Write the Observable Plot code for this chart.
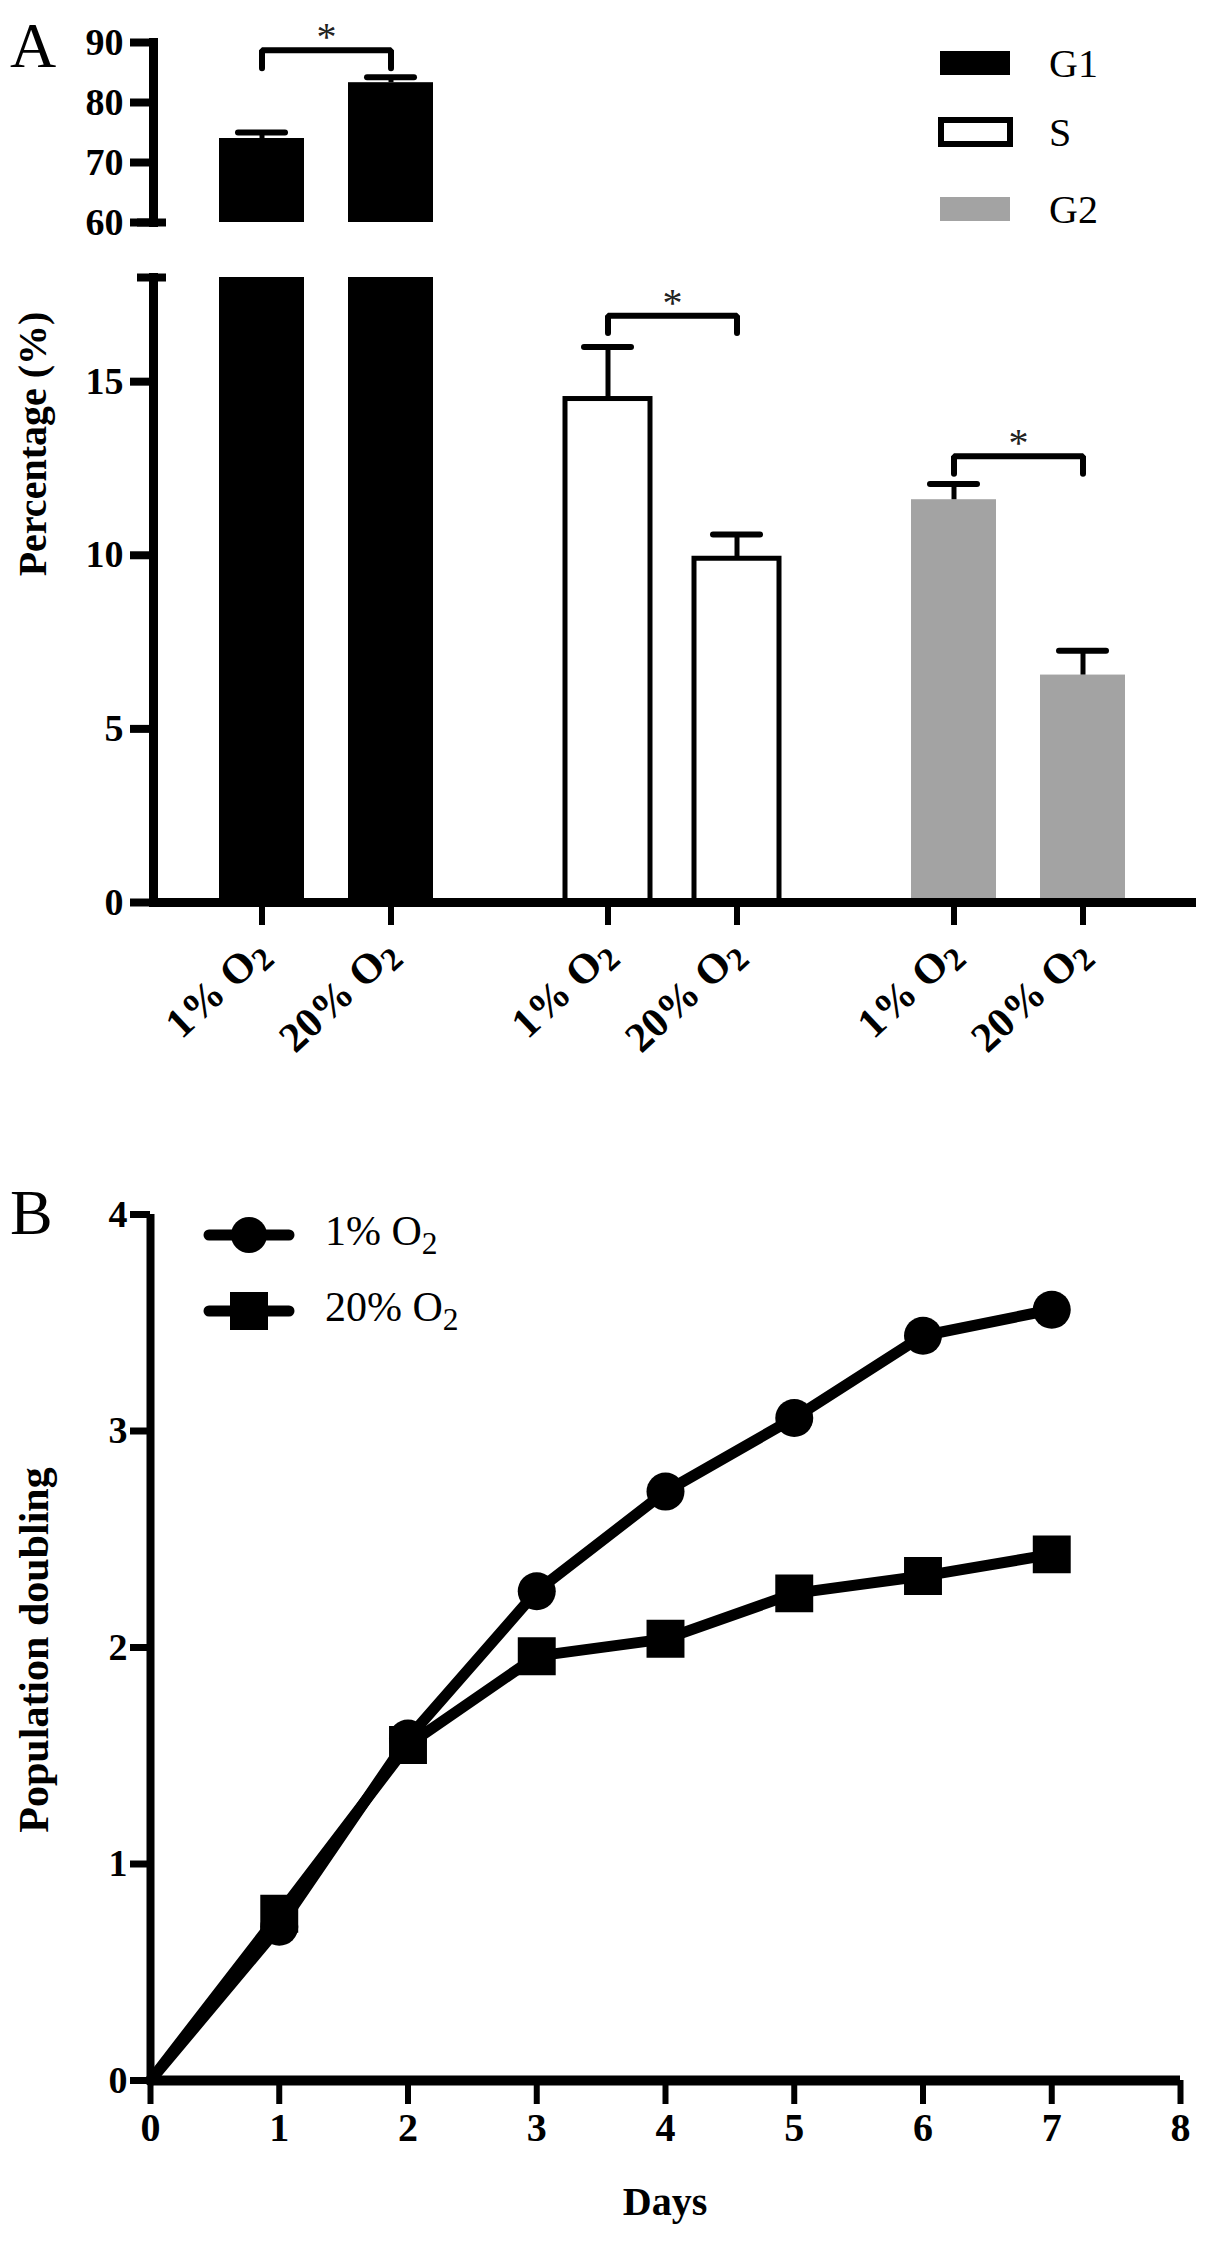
<!DOCTYPE html>
<html>
<head>
<meta charset="utf-8">
<script src="https://cdn.jsdelivr.net/npm/d3@7"></script>
<script src="https://cdn.jsdelivr.net/npm/@observablehq/plot@0.6"></script>
<style>
  body { margin: 0; background: white; }
  #figure {
    position: relative; width: 1205px; height: 2244px; overflow: hidden;
    font-family: 'Liberation Serif', 'Times New Roman', serif; color: black; background: white;
  }
  #figure > div, #figure > svg { position: absolute; }
  .letter { font-size: 64px; line-height: 64px; }
  .ytitle {
    font-weight: bold; font-size: 40px; line-height: 40px; white-space: nowrap;
    transform: translate(-50%, -50%) rotate(-90deg);
  }
  .legtext { font-size: 40px; line-height: 40px; white-space: nowrap; }
  .legB { font-size: 42px; line-height: 42px; white-space: nowrap; }
  .legB span { font-size: 0.75em; position: relative; top: 0.3em; }
  .swatch { box-sizing: border-box; }
</style>
</head>
<body>
<div id="figure">
  <div id="topA"></div>
  <div id="bottomA"></div>
  <div id="chartB"></div>

  <div class="letter" style="left:10px; top:14px;">A</div>
  <div class="letter" style="left:10px; top:1181px;">B</div>

  <div class="ytitle" style="left:33px; top:444px;">Percentage (%)</div>
  <div class="ytitle" style="left:34px; top:1650px; font-size:42px;">Population doubling</div>
  <div style="left:665px; top:2182px; transform:translateX(-50%); font-weight:bold; font-size:40px; line-height:40px;">Days</div>

  <!-- legend A -->
  <div class="swatch" style="left:940px; top:51px; width:70px; height:24px; background:#000;"></div>
  <div class="swatch" style="left:938px; top:117px; width:75px; height:30px; background:#fff; border:6px solid #000;"></div>
  <div class="swatch" style="left:940px; top:197px; width:70px; height:24px; background:#a3a3a3;"></div>
  <div class="legtext" style="left:1049px; top:44px;">G1</div>
  <div class="legtext" style="left:1049px; top:113px;">S</div>
  <div class="legtext" style="left:1049px; top:190px;">G2</div>

  <!-- legend B -->
  <svg style="left:200px; top:1200px;" width="100" height="140">
    <line x1="9" x2="89" y1="35" y2="35" stroke="#000" stroke-width="11" stroke-linecap="round"/>
    <circle cx="49" cy="35" r="18" fill="#000"/>
    <line x1="9" x2="89" y1="111" y2="111" stroke="#000" stroke-width="11" stroke-linecap="round"/>
    <rect x="30" y="92" width="38" height="38" fill="#000"/>
  </svg>
  <div class="legB" style="left:325px; top:1210px;">1% O<span>2</span></div>
  <div class="legB" style="left:325px; top:1286px;">20% O<span>2</span></div>
</div>

<script>
// ---- Panel A: cell cycle distribution (%) ----
const phases = ['G1', 'S', 'G2']
const conditions = ['1% O2', '20% O2']
const phaseColors = ['#000000', '#ffffff', '#a3a3a3']

const meanG1 = [74.0, 83.3]
const errG1 = [1.0, 0.9]
const meanS = [14.5, 9.9]
const errS = [1.5, 0.7]
const meanG2 = [11.6, 6.55]
const errG2 = [0.45, 0.7]

// height of the significance bracket over each pair
const sigLevel = [88.7, 16.9, 12.85]

const upperTicks = [60, 70, 80, 90]
const lowerTicks = [0, 5, 10, 15]

// ---- Panel B: population doubling ----
const days = [0, 1, 2, 3, 4, 5, 6, 7]
const pd1 = [0, 0.71, 1.58, 2.26, 2.72, 3.06, 3.44, 3.56]
const pd20 = [0, 0.77, 1.55, 1.96, 2.04, 2.25, 2.33, 2.43]
const dayTicks = [0, 1, 2, 3, 4, 5, 6, 7, 8]
const pdTicks = [0, 1, 2, 3, 4]

/* tabla para las barras */
const means = [meanG1, meanS, meanG2]
const errs = [errG1, errS, errG2]
const bars = phases.flatMap((p, i) => conditions.map((c, j) => ({
  phase: p, cond: c, mean: means[i][j], err: errs[i][j],
})))
const sig = phases.map((p, i) => ({phase: p, level: sigLevel[i]}))

const font = {
  fontFamily: "'Liberation Serif', 'Times New Roman', serif",
  fontSize: '38px',
  fontWeight: 'bold',
  color: 'black',
  background: 'white',
  overflow: 'visible',
}

function panelA({domain, ticks, capAt, drop, marginTop, marginBottom, height, showX}) {
  const [lo, hi] = domain
  const inRange = sig.filter(d => d.level >= lo && d.level <= hi)
  const bracket = inRange.flatMap(d => [
    {phase: d.phase, cond: conditions[0], y: d.level - drop},
    {phase: d.phase, cond: conditions[0], y: d.level},
    {phase: d.phase, cond: conditions[1], y: d.level},
    {phase: d.phase, cond: conditions[1], y: d.level - drop},
  ])

  const marks = [
    Plot.barY(bars, {fx: 'phase', x: 'cond', y: 'mean', fill: 'phase', clip: true}),
    Plot.barY(bars.filter(d => d.phase === 'S'), {
      fx: 'phase', x: 'cond', y: 'mean', fill: 'none', stroke: 'black', strokeWidth: 5, clip: true,
    }),
    Plot.ruleX(bars, {fx: 'phase', x: 'cond', y1: 'mean', y2: d => d.mean + d.err, strokeWidth: 5, clip: true}),
    Plot.tickY(bars, {
      fx: 'phase', x: 'cond', y: d => d.mean + d.err,
      strokeWidth: 6, insetLeft: 19, insetRight: 19, strokeLinecap: 'round', clip: true,
    }),
    Plot.line(bracket, {
      fx: 'phase', x: 'cond', y: 'y', z: 'phase',
      strokeWidth: 6, strokeLinecap: 'round', strokeLinejoin: 'miter',
    }),
    Plot.text(inRange, {
      fx: 'phase', y: 'level', text: () => '*', lineAnchor: 'bottom',
      fontSize: 40, fontWeight: 'normal', fill: '#222',
    }),
    Plot.axisY({ticks, tickSize: 23, tickPadding: 7, strokeWidth: 8, label: null}),
    Plot.axisY({ticks: [capAt], tickSize: 29, dx: 13, strokeWidth: 8, tickFormat: () => '', label: null}),
    Plot.frame({anchor: 'left', facet: 'super', strokeWidth: 9}),
  ]
  if (showX) {
    marks.push(
      Plot.frame({anchor: 'bottom', facet: 'super', strokeWidth: 9}),
      Plot.axisX({
        tickSize: 23, tickPadding: 21, tickRotate: -43, strokeWidth: 6, fontSize: 42, label: null,
      }),
    )
  }

  return Plot.plot({
    width: 1205,
    height,
    marginLeft: 152,
    marginRight: 14,
    marginTop,
    marginBottom,
    style: font,
    fx: {domain: phases, padding: 0, axis: null, label: null},
    x: {domain: conditions, paddingInner: 0.338, paddingOuter: 0.501, axis: showX ? undefined : null},
    y: {domain, axis: null},
    color: {domain: phases, range: phaseColors},
    marks,
  })
}

const upperPlot = panelA({
  domain: [60, 90], ticks: upperTicks, capAt: 60, drop: 3,
  marginTop: 42, marginBottom: 10, height: 232, showX: false,
})
const lowerPlot = panelA({
  domain: [0, 18], ticks: lowerTicks, capAt: 18, drop: 0.5,
  marginTop: 20, marginBottom: 170, height: 815, showX: true,
})

/* subindice del O2 en las etiquetas */
d3.select(lowerPlot).selectAll('text').each(function () {
  const t = this.textContent
  if (/O2$/.test(t)) {
    const el = d3.select(this)
    el.text(t.slice(0, -1))
    el.append('tspan').attr('dy', '0.22em').attr('font-size', '78%').text('2')
  }
})

d3.select('#topA').style('left', '0px').style('top', '0px').append(() => upperPlot)
d3.select('#bottomA').style('left', '0px').style('top', '257px').append(() => lowerPlot)

// ---- Panel B ----
const series = [
  {name: '1% O2', values: pd1, symbol: 'circle'},
  {name: '20% O2', values: pd20, symbol: 'square'},
]
const growth = series.flatMap(s => days.map((d, i) => ({
  serie: s.name, day: d, pd: s.values[i], symbol: s.symbol,
})))

const chartB = Plot.plot({
  width: 1205,
  height: 1064,
  marginLeft: 150,
  marginRight: 25,
  marginTop: 34,
  marginBottom: 164,
  style: font,
  x: {domain: [0, 8], axis: null},
  y: {domain: [0, 4], axis: null},
  symbol: {domain: ['circle', 'square'], range: ['circle', 'square']},
  marks: [
    Plot.axisY({ticks: pdTicks, tickFormat: d3.format('d'), tickSize: 20, tickPadding: 3, strokeWidth: 7, label: null}),
    Plot.axisX({ticks: dayTicks, tickFormat: d3.format('d'), tickSize: 24, tickPadding: 8, strokeWidth: 6, fontSize: 40, label: null}),
    Plot.ruleX([0], {y1: 0, y2: 4, strokeWidth: 8}),
    Plot.ruleY([0], {x1: 0, x2: 8, strokeWidth: 10}),
    Plot.line(growth.filter(d => d.serie === series[0].name), {x: 'day', y: 'pd', strokeWidth: 11}),
    Plot.dot(growth.filter(d => d.serie === series[0].name && d.day > 0), {
      x: 'day', y: 'pd', r: 19, symbol: 'symbol', fill: 'black',
    }),
    Plot.line(growth.filter(d => d.serie === series[1].name), {x: 'day', y: 'pd', strokeWidth: 11}),
    Plot.dot(growth.filter(d => d.serie === series[1].name && d.day > 0), {
      x: 'day', y: 'pd', r: 21.4, symbol: 'symbol', fill: 'black',
    }),
  ],
})

d3.select('#chartB').style('left', '0px').style('top', '1180px').append(() => chartB)
</script>
</body>
</html>
